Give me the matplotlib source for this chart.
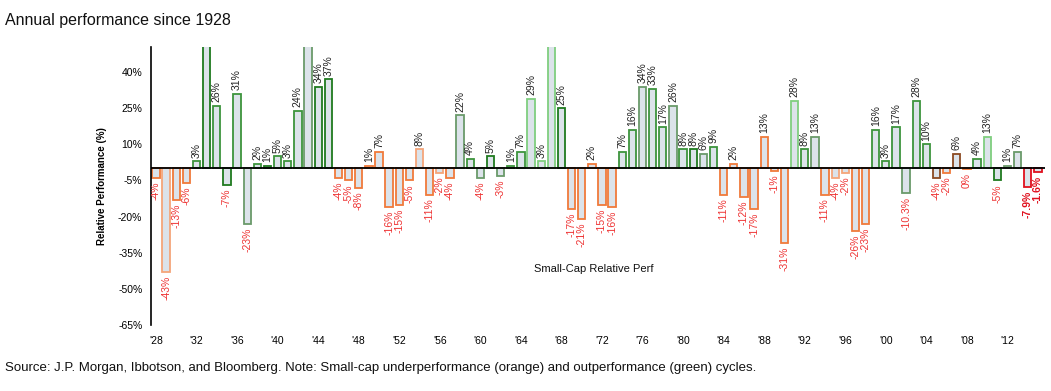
import matplotlib
matplotlib.use("Agg")
import matplotlib.pyplot as plt

plt.rcParams['font.family'] = ['Liberation Sans', 'DejaVu Sans']

years = list(range(1928, 2016))
values = [
    -4, -43, -13, -6, 3, 90, 26, -7, 31, -23,          # 1928-1937
    2, 1, 5, 3, 24, 80, 34, 37, -4, -5,                # 1938-1947
    -8, 1, 7, -16, -15, -5, 8, -11, -2, -4,            # 1948-1957
    22, 4, -4, 5, -3, 1, 7, 29, 3, 70,                 # 1958-1967
    25, -17, -21, 2, -15, -16, 7, 16, 34, 33,          # 1968-1977
    17, 26, 8, 8, 6, 9, -11, 2, -12, -17,              # 1978-1987
    13, -1, -31, 28, 8, 13, -11, -4, -2, -26,          # 1988-1997
    -23, 16, 3, 17, -10.3, 28, 10, -4, -2, 6,          # 1998-2007
    -0.4, 4, 13, -5, 1, 7, -7.9, -1.6,                 # 2008-2015
]
bar_labels = [
    "-4%", "-43%", "-13%", "-6%", "3%", "", "26%", "-7%", "31%", "-23%",
    "2%", "1%", "5%", "3%", "24%", "", "34%", "37%", "-4%", "-5%",
    "-8%", "1%", "7%", "-16%", "-15%", "-5%", "8%", "-11%", "-2%", "-4%",
    "22%", "4%", "-4%", "5%", "-3%", "1%", "7%", "29%", "3%", "",
    "25%", "-17%", "-21%", "2%", "-15%", "-16%", "7%", "16%", "34%", "33%",
    "17%", "26%", "8%", "8%", "6%", "9%", "-11%", "2%", "-12%", "-17%",
    "13%", "-1%", "-31%", "28%", "8%", "13%", "-11%", "-4%", "-2%", "-26%",
    "-23%", "16%", "3%", "17%", "-10.3%", "28%", "10%", "-4%", "-2%", "6%",
    "0%", "4%", "13%", "-5%", "1%", "7%", "-7.9%", "-1.6%",
]

OR = "#f07a3a"; OL = "#f5a57a"; GD = "#1f7a1f"; GM = "#3d943d"; GL = "#7fce7f"
GG = "#6a9a6a"; BR = "#8b4a22"; RD = "#e0101e"
edge_colors = [
    OR, OL, OR, OR, GM, GD, GM, GD, GM, GG,
    GM, GD, GM, GM, GM, GG, GD, GD, OR, OR,
    OR, OR, OR, OR, OR, OR, OL, OR, OL, OR,
    GG, GM, GG, GD, GG, GM, GM, GL, GL, GL,
    GD, OR, OR, OR, OR, OR, GM, GM, GG, GM,
    GM, GG, GM, GD, GG, GM, OR, OR, OR, OR,
    OR, OR, OR, GL, GM, GG, OR, OL, OL, OR,
    OR, GM, GM, GM, GG, GM, GM, BR, OR, BR,
    OR, GM, GL, GD, GG, GG, RD, RD,
]

ytick_vals = [40, 25, 10, -5, -20, -35, -50, -65]
ytick_labels = ["40%", "25%", "10%", "-5%", "-20%", "-35%", "-50%", "-65%"]
xtick_years = list(range(1928, 2016, 4))
xtick_labels = ["'%02d" % (y % 100) for y in xtick_years]

fig = plt.figure(figsize=(10.51, 3.91), dpi=100)
ax = fig.add_axes([150.7 / 1051, 1 - 325 / 391, (1045 - 150.7) / 1051, (325 - 47) / 391])

ax.bar(years, values, width=0.72, color="#dce3ea", edgecolor=edge_colors, linewidth=1.3, zorder=2)
ax.axhline(0, color="black", linewidth=1.3, zorder=3)

ax.set_xlim(1927.48, 2015.7)
ax.set_ylim(-65, 50.4)

for y, v, lab in zip(years, values, bar_labels):
    if not lab:
        continue
    bold = lab in ("-7.9%", "-1.6%")
    if v >= 0:
        ax.text(y, v + 1.5, lab, rotation=90, ha="center", va="bottom", fontsize=7.5,
                color="#222222", clip_on=True)
    else:
        ax.text(y, v - 1.5, lab, rotation=90, ha="center", va="top", fontsize=7.5,
                color=RD if bold else "#ee3333", fontweight="bold" if bold else "normal",
                clip_on=True)

ax.set_yticks(ytick_vals)
ax.set_yticklabels(ytick_labels, fontsize=7.5)
ax.set_xticks(xtick_years)
ax.set_xticklabels(xtick_labels, fontsize=7.5)
ax.tick_params(axis="both", length=0)
ax.tick_params(axis="x", pad=8)
ax.tick_params(axis="y", pad=6)

for s in ("top", "right", "bottom"):
    ax.spines[s].set_visible(False)
ax.spines["left"].set_linewidth(1.2)

ax.set_ylabel("Relative Performance (%)", fontsize=7, fontweight="bold", labelpad=8)

ax.text(0.495, 0.2, "Small-Cap Relative Perf", transform=ax.transAxes, fontsize=8,
        ha="center", va="center", color="#111111")

fig.text(5 / 1051, 1 - 20 / 391, "Annual performance since 1928", fontsize=11.5,
         ha="left", va="center", color="#111111")
fig.text(5 / 1051, 1 - 368 / 391,
         "Source: J.P. Morgan, Ibbotson, and Bloomberg. Note: Small-cap underperformance (orange) and outperformance (green) cycles.",
         fontsize=9.5, ha="left", va="center", color="#111111")

fig.savefig("out.png", dpi=100)
